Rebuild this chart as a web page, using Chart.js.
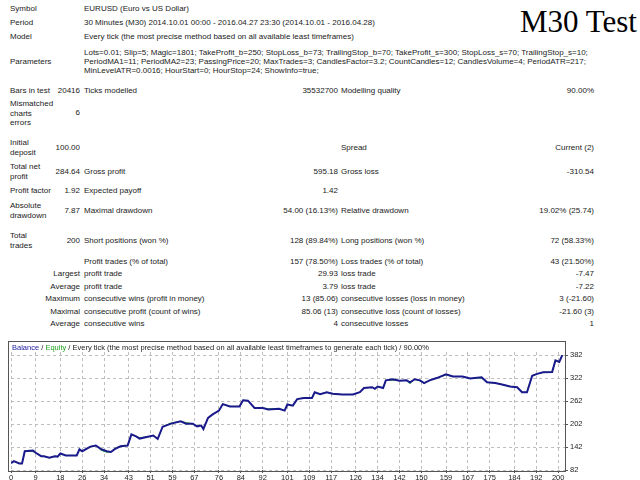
<!DOCTYPE html>
<html>
<head>
<meta charset="utf-8">
<script src="https://cdn.jsdelivr.net/npm/chart.js@4"></script>
<style>
  body { margin: 0; background: #fff; font-family: "Liberation Sans", Arial, sans-serif; font-size: 8px; color: #222; }
  #page { position: relative; width: 640px; height: 480px; overflow: hidden; }
  .t { position: absolute; white-space: nowrap; line-height: 9.5px; }
  .r { text-align: right; }
  #big { position: absolute; left: 520px; top: 4px; font-family: "Liberation Serif", serif; font-size: 31px; color: #000; }
  #box { position: absolute; left: 8px; top: 341px; width: 556px; height: 129px; border: 1px solid #555; }
  #cap { position: absolute; left: 12px; top: 343px; font-size: 7.5px; }
  #wrap { position: absolute; left: 9px; top: 341px; width: 590px; height: 139px; }
</style>
</head>
<body>
<div id="page">
  <div id="big">M30 Test</div>
  <div id="rows"></div>
  <div id="box"></div>
  <div id="wrap"><canvas id="c"></canvas></div>
  <div id="cap"><span style="color:#2020a0">Balance</span> / <span style="color:#20a020">Equity</span> / Every tick (the most precise method based on all available least timeframes to generate each tick) / 90.00%</div>
</div>
<script>
// trade number -> balance
const trades  = [0, 1, 3, 4, 5, 8, 9, 11, 12, 14, 16, 17, 18, 20, 24, 25, 26, 29, 31, 33, 35, 36.5, 38, 40, 42.6, 44, 45.7, 47, 50, 52, 53.6, 55.4, 58.5, 62, 64, 66.4, 68, 69.5, 70.3, 72, 73.7, 76, 77.4, 80, 83.5, 84.8, 86.6, 89, 92, 94, 98, 100, 101, 103, 104.6, 107, 110, 111, 113, 115.4, 117.6, 121, 125, 127.5, 129, 132, 133, 134, 136, 137, 139.6, 142, 144.6, 145.8, 147.6, 149.5, 151, 153, 155.6, 159, 161.5, 165, 167.8, 172, 174, 177, 179.5, 182.4, 185, 186.8, 188.6, 190.5, 192.3, 194.5, 197.8, 199, 200.4, 201.5];
const balance = [100, 105, 99, 99, 131, 133, 127, 118, 118, 114, 118, 117, 125, 120, 120, 136, 131, 143, 146, 136, 131, 129, 137, 144, 146, 175, 170, 164, 169, 172, 163, 195, 203, 209, 203, 203, 196, 198, 189, 218, 227, 237, 254, 248, 248, 264, 263, 244, 244, 240, 242, 237, 253, 250, 267, 270, 270, 285, 280, 285, 281, 279, 279, 285, 296, 298, 294, 300, 296, 316, 319, 315, 316, 311, 319, 316, 309, 316, 322, 332, 326, 326, 321, 324, 311, 309, 305, 300, 298, 285, 285, 328, 333, 337, 338, 368, 364, 382];
const equity  = [100, 105, 99, 99, 131, 130, 127, 118, 118, 114, 118, 117, 125, 120, 120, 136, 131, 143, 146, 133, 128, 129, 137, 144, 146, 175, 170, 166, 169, 172, 163, 195, 205, 209, 206, 203, 196, 198, 189, 218, 227, 237, 254, 248, 248, 264, 263, 244, 244, 242, 242, 237, 253, 250, 267, 270, 270, 285, 280, 285, 281, 279, 279, 285, 296, 298, 294, 300, 296, 316, 316, 315, 316, 307, 319, 314, 309, 316, 322, 330, 326, 326, 321, 322, 311, 309, 305, 300, 298, 285, 285, 328, 333, 337, 338, 368, 364, 382];
const xTicks = [0, 9, 18, 26, 34, 43, 51, 59, 67, 76, 84, 92, 101, 109, 117, 126, 134, 142, 150, 159, 167, 175, 184, 192, 200];
const yTicks = [82, 142, 202, 262, 322, 382];

const rows = [
  [9, 'Symbol', 'EURUSD (Euro vs US Dollar)'],
  [23, 'Period', '30 Minutes (M30) 2014.10.01 00:00 - 2016.04.27 23:30 (2014.10.01 - 2016.04.28)'],
  [37, 'Model', 'Every tick (the most precise method based on all available least timeframes)']
];
const params = [
  'Lots=0.01; Slip=5; Magic=1801; TakeProfit_b=250; StopLoss_b=73; TrailingStop_b=70; TakeProfit_s=300; StopLoss_s=70; TrailingStop_s=10;',
  'PeriodMA1=11; PeriodMA2=23; PassingPrice=20; MaxTrades=3; CandlesFactor=3.2; CountCandles=12; CandlesVolume=4; PeriodATR=217;',
  'MinLevelATR=0.0016; HourStart=0; HourStop=24; ShowInfo=true;'
];
// [row centre y, label first-line centre y, col1 .. col6]
const stats = [
  [91, 91, 'Bars in test', '20416', 'Ticks modelled', '35532700', 'Modelling quality', '90.00%'],
  [113, 104, 'Mismatched<br>charts<br>errors', '6', '', '', '', ''],
  [148, 143, 'Initial<br>deposit', '100.00', '', '', 'Spread', 'Current (2)'],
  [172, 167, 'Total net<br>profit', '284.64', 'Gross profit', '595.18', 'Gross loss', '-310.54'],
  [191, 191, 'Profit factor', '1.92', 'Expected payoff', '1.42', '', ''],
  [211, 206, 'Absolute<br>drawdown', '7.87', 'Maximal drawdown', '54.00 (16.13%)', 'Relative drawdown', '19.02% (25.74)'],
  [241, 236, 'Total<br>trades', '200', 'Short positions (won %)', '128 (89.84%)', 'Long positions (won %)', '72 (58.33%)'],
  [262, 262, '', '', 'Profit trades (% of total)', '157 (78.50%)', 'Loss trades (% of total)', '43 (21.50%)'],
  [274, 274, '', 'Largest', 'profit trade', '29.93', 'loss trade', '-7.47'],
  [287, 287, '', 'Average', 'profit trade', '3.79', 'loss trade', '-7.22'],
  [299, 299, '', 'Maximum', 'consecutive wins (profit in money)', '13 (85.06)', 'consecutive losses (loss in money)', '3 (-21.60)'],
  [312, 312, '', 'Maximal', 'consecutive profit (count of wins)', '85.06 (13)', 'consecutive loss (count of losses)', '-21.60 (3)'],
  [324, 324, '', 'Average', 'consecutive wins', '4', 'consecutive losses', '1']
];

const host = document.getElementById('rows');
function put(html, x, cy, right) {
  const d = document.createElement('div');
  d.className = 't' + (right ? ' r' : '');
  d.innerHTML = html;
  d.style.top = (cy - 5) + 'px';
  if (right) d.style.right = (640 - x) + 'px'; else d.style.left = x + 'px';
  host.appendChild(d);
}
rows.forEach(r => { put(r[1], 10, r[0]); put(r[2], 84, r[0]); });
put('Parameters', 10, 62);
params.forEach((p, i) => put(p, 84, 53 + i * 9));
stats.forEach(s => {
  put(s[2], 10, s[1]);
  put(s[3], 80, s[0], true);
  put(s[4], 84, s[0]);
  put(s[5], 338, s[0], true);
  put(s[6], 341, s[0]);
  put(s[7], 594, s[0], true);
});

const pts = (ys) => trades.map((t, i) => ({ x: t, y: ys[i] }));
const grid = { color: '#bdbdbd', lineWidth: 1, drawTicks: true, tickLength: 3, tickColor: '#555' };

new Chart(document.getElementById('c'), {
  type: 'line',
  data: {
    datasets: [
      { label: 'Balance', data: pts(balance), borderColor: '#1a1a8c', borderWidth: 2, pointRadius: 0, tension: 0 },
      { label: 'Equity', data: pts(equity), borderColor: '#38b038', borderWidth: 1, pointRadius: 0, tension: 0 }
    ]
  },
  options: {
    responsive: true,
    maintainAspectRatio: false,
    animation: false,
    layout: { padding: { top: 11, left: 0, right: 0, bottom: 0 } },
    plugins: { legend: { display: false }, tooltip: { enabled: false } },
    scales: {
      x: {
        type: 'linear', min: 0, max: 202.5,
        afterBuildTicks: a => { a.ticks = xTicks.map(v => ({ value: v })); },
        afterFit: a => { a.height = 10; },
        grid: grid, border: { display: false, dash: [3, 3] },
        ticks: { color: '#222', font: { size: 7.5, family: 'Liberation Sans' }, padding: 0, maxRotation: 0, autoSkip: false }
      },
      y: {
        position: 'right', min: 82, max: 390,
        afterBuildTicks: a => { a.ticks = yTicks.map(v => ({ value: v })); },
        afterFit: a => { a.width = 34; },
        grid: grid, border: { display: false, dash: [3, 3] },
        ticks: { color: '#222', font: { size: 7.5, family: 'Liberation Sans' }, padding: 2 }
      }
    }
  }
});
</script>
</body>
</html>
